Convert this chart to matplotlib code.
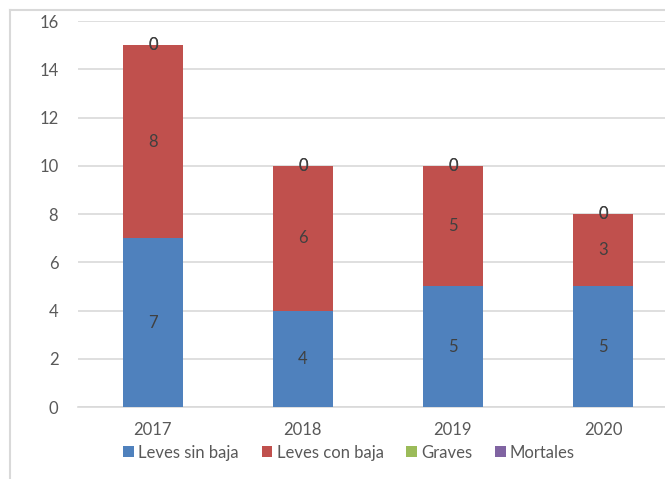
import matplotlib
matplotlib.use('Agg')
import matplotlib.pyplot as plt
from matplotlib.lines import Line2D
import numpy as np

years = ['2017', '2018', '2019', '2020']
leves_sin_baja = [7, 4, 5, 5]
leves_con_baja = [8, 6, 5, 3]
graves = [0, 0, 0, 0]
mortales = [0, 0, 0, 0]

series = [
    ('Leves sin baja', leves_sin_baja, '#4f81bd'),
    ('Leves con baja', leves_con_baja, '#c0504d'),
    ('Graves', graves, '#9bbb59'),
    ('Mortales', mortales, '#8064a2'),
]

plt.rcParams['font.family'] = ['Lato', 'DejaVu Sans']
txt = '#595959'

fig = plt.figure(figsize=(6.65, 4.79), dpi=100)
ax = fig.add_axes([0.117, 0.1503, 0.9025, 0.8057])

x = np.arange(len(years))
bottom = np.zeros(len(years))
handles = []
for name, vals, col in series:
    vals = np.array(vals, dtype=float)
    bars = ax.bar(x, vals, 0.4, bottom=bottom, color=col, zorder=3, label=name)
    for xi, b, v in zip(x, bottom, vals):
        ax.text(xi, b + v / 2, '%d' % v, ha='center', va='center',
                fontsize=12, color='#404040', zorder=5)
    bottom += vals
    handles.append(bars)

ax.set_xlim(-0.5, 3.5)
ax.set_ylim(0, 16)
ax.set_yticks(range(0, 17, 2))
ax.set_xticks(x)
ax.set_xticklabels(years)
ax.yaxis.grid(True, color='#d9d9d9', linewidth=1.2, zorder=0)
ax.set_axisbelow(True)
for s in ['top', 'right', 'left']:
    ax.spines[s].set_visible(False)
ax.spines['bottom'].set_color('#d9d9d9')
ax.spines['bottom'].set_linewidth(1.2)
ax.tick_params(axis='both', length=0, labelsize=12, colors=txt)
ax.tick_params(axis='y', pad=14)
ax.tick_params(axis='x', pad=11)

leg = fig.legend(handles=handles, loc='center', bbox_to_anchor=(0.525, 0.055),
                 ncol=4, frameon=False, fontsize=12, handlelength=0.65,
                 handleheight=0.65, handletextpad=0.25, columnspacing=1.35)
for t in leg.get_texts():
    t.set_color(txt)

# outer chart border (partially cropped)
fig.add_artist(Line2D([0.015, 0.015], [0.0, 0.979], transform=fig.transFigure,
                      color='#d9d9d9', linewidth=1.5))
fig.add_artist(Line2D([0.015, 1.0], [0.979, 0.979], transform=fig.transFigure,
                      color='#d9d9d9', linewidth=1.5))

fig.savefig('out.png', dpi=100)
